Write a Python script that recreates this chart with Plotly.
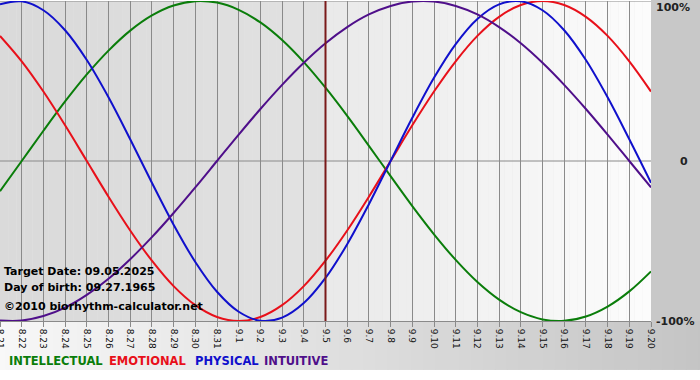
import plotly.graph_objects as go

# ---- data ----
days = ["8.21", "8.22", "8.23", "8.24", "8.25", "8.26", "8.27", "8.28", "8.29", "8.30", "8.31",
        "9.1", "9.2", "9.3", "9.4", "9.5", "9.6", "9.7", "9.8", "9.9", "9.10", "9.11", "9.12",
        "9.13", "9.14", "9.15", "9.16", "9.17", "9.18", "9.19", "9.20"]

intellectual = [-0.189, 0.000, 0.189, 0.372, 0.541, 0.690, 0.815, 0.910, 0.972, 0.999, 0.990,
                0.945, 0.866, 0.756, 0.618, 0.458, 0.282, 0.095, -0.095, -0.282, -0.458, -0.618,
                -0.756, -0.866, -0.945, -0.990, -0.999, -0.972, -0.910, -0.815, -0.690]
emotional = [0.782, 0.623, 0.434, 0.223, 0.000, -0.223, -0.434, -0.623, -0.782, -0.901, -0.975,
             -1.000, -0.975, -0.901, -0.782, -0.623, -0.434, -0.223, 0.000, 0.223, 0.434, 0.623,
             0.782, 0.901, 0.975, 1.000, 0.975, 0.901, 0.782, 0.623, 0.434]
physical = [0.979, 0.998, 0.942, 0.817, 0.631, 0.398, 0.136, -0.136, -0.398, -0.631, -0.817,
            -0.942, -0.998, -0.979, -0.888, -0.731, -0.520, -0.270, 0.000, 0.270, 0.520, 0.731,
            0.888, 0.979, 0.998, 0.942, 0.817, 0.631, 0.398, 0.136, -0.136]
intuitive = [-0.997, -0.997, -0.969, -0.916, -0.837, -0.736, -0.614, -0.476, -0.325, -0.165,
             0.000, 0.165, 0.325, 0.476, 0.614, 0.736, 0.837, 0.916, 0.969, 0.997, 0.997, 0.969,
             0.916, 0.837, 0.736, 0.614, 0.476, 0.325, 0.165, 0.000, -0.165]

target_label = "Target Date: 09.05.2025"
birth_label = "Day of birth: 09.27.1965"
credit_label = "\u00a92010 biorhythm-calculator.net"
target_index = days.index("9.5")

y_tick_text = ["100%", "0", "-100%"]

legend_names = ["INTELLECTUAL", "EMOTIONAL", "PHYSICAL", "INTUITIVE"]
colors = ["#0a7d0a", "#e8101a", "#1010cc", "#4f0f8a"]

x = list(range(len(days)))
n = len(days) - 1

fig = go.Figure()

series = [intellectual, emotional, physical, intuitive]
for i in range(4):
    fig.add_trace(go.Scatter(x=x, y=series[i], mode="lines",
                             line=dict(color=colors[i], width=2, shape="spline", smoothing=1.0),
                             hoverinfo="skip", showlegend=False))

shapes = []
steps = 40
for k in range(steps):
    x0 = target_index * k / steps
    x1 = target_index * (k + 1) / steps
    c = int(218 + (226 - 218) * k / steps)
    shapes.append(dict(type="rect", xref="x", yref="paper", x0=x0, x1=x1, y0=0, y1=1,
                       fillcolor=f"rgb({c},{c},{c})", line=dict(width=0), layer="below"))
for k in range(steps):
    x0 = target_index + (n - target_index) * k / steps
    x1 = target_index + (n - target_index) * (k + 1) / steps
    c = int(234 + (253 - 234) * k / steps)
    shapes.append(dict(type="rect", xref="x", yref="paper", x0=x0, x1=x1, y0=0, y1=1,
                       fillcolor=f"rgb({c},{c},{c})", line=dict(width=0), layer="below"))
shapes.append(dict(type="rect", xref="paper", yref="paper", x0=1, x1=1.2, y0=0, y1=1.01,
                   fillcolor="#c8c8c8", line=dict(width=0), layer="below"))
bsteps = 60
for k in range(bsteps):
    x0 = -0.01 + 1.1 * k / bsteps
    x1 = -0.01 + 1.1 * (k + 1) / bsteps + 0.002
    c = int(248 - (248 - 196) * k / bsteps)
    shapes.append(dict(type="rect", xref="paper", yref="paper", x0=x0, x1=x1, y0=-0.153, y1=0,
                       fillcolor=f"rgb({c},{c},{c})", line=dict(width=0), layer="below"))
shapes.append(dict(type="line", xref="paper", yref="y", x0=0, x1=1, y0=0, y1=0,
                   line=dict(color="#8a8a8a", width=1), layer="below"))
shapes.append(dict(type="line", xref="paper", yref="y", x0=0, x1=1, y0=1, y1=1,
                   line=dict(color="#8a8a8a", width=1), layer="below"))
shapes.append(dict(type="line", xref="x", yref="paper", x0=target_index, x1=target_index, y0=0, y1=1,
                   line=dict(color="#7a1a1a", width=2), layer="above"))

annotations = []
for txt, yy in [(target_label, 0.156), (birth_label, 0.106), (credit_label, 0.044)]:
    annotations.append(dict(x=0.003, y=yy, xref="paper", yref="paper", text=txt, showarrow=False,
                            xanchor="left", yanchor="middle",
                            font=dict(family="DejaVu Sans", size=11, color="#000000", weight="bold")))
for t, yy, xs in [(y_tick_text[0], 0.98, 3), (y_tick_text[1], 0.5, 27), (y_tick_text[2], 0.0, 3)]:
    annotations.append(dict(x=1.0, y=yy, xref="paper", yref="paper", text=t, showarrow=False,
                            xanchor="left", xshift=xs, yanchor="middle",
                            font=dict(family="DejaVu Sans", size=11, color="#222222", weight="bold")))
legend_x = [7, 107, 193, 262]
for name, col, lx in zip(legend_names, colors, legend_x):
    annotations.append(dict(x=lx / 651, y=-0.125, xref="paper", yref="paper", text=name, showarrow=False,
                            xanchor="left", yanchor="middle",
                            font=dict(family="DejaVu Sans", size=11.5, color=col, weight="bold")))

fig.update_layout(
    width=700, height=380,
    margin=dict(l=0, r=49, t=1, b=59, autoexpand=False),
    paper_bgcolor="#ffffff",
    plot_bgcolor="#e6e6e6",
    shapes=shapes,
    annotations=annotations,
    xaxis=dict(range=[0, n], tickvals=x, ticktext=days, tickangle=90, automargin=False,
               showgrid=True, gridcolor="#8a8a8a", gridwidth=1,
               ticks="outside", ticklen=5, tickcolor="#8a8a8a", ticklabeloverflow="allow",
               tickfont=dict(family="DejaVu Sans", size=9, color="#111111"),
               zeroline=False, showline=True, linecolor="#8a8a8a", fixedrange=True),
    yaxis=dict(range=[-1.0, 1.0], showgrid=False, zeroline=False, showticklabels=False,
               fixedrange=True, automargin=False),
    showlegend=False,
)

fig.write_html("out.html", config={"displayModeBar": False},
               post_script="document.body.style.margin='0';document.body.style.overflow='hidden';")
